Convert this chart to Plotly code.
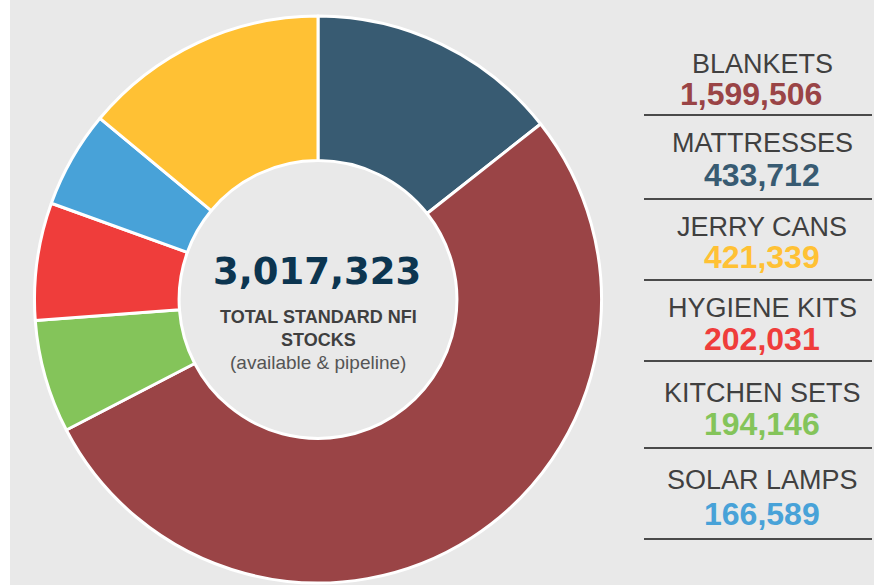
"""Donut chart of standard NFI stocks with a side list of totals."""

import plotly.graph_objects as go

ITEMS = ["MATTRESSES", "BLANKETS", "KITCHEN SETS", "HYGIENE KITS", "SOLAR LAMPS", "JERRY CANS"]
STOCKS = [433712, 1599506, 194146, 202031, 166589, 421339]
COLORS = ["#385B72", "#9A4446", "#84C45A", "#EF3D3B", "#48A2D8", "#FFC134"]

# order of the list on the right
LIST_ORDER = ["BLANKETS", "MATTRESSES", "JERRY CANS", "HYGIENE KITS", "KITCHEN SETS", "SOLAR LAMPS"]

TOTAL_LABEL = "TOTAL STANDARD NFI<br>STOCKS"
TOTAL_NOTE = "(available & pipeline)"

W, H = 874, 585
BG = "#E9E9E9"
LABEL_FONT = "Liberation Sans, Arial, sans-serif"


def px_x(x):
    return x / W


def px_y(y):
    return 1 - y / H


def note(x, y, text, font):
    fig.add_annotation(
        x=px_x(x), y=px_y(y), xref="paper", yref="paper", showarrow=False,
        xanchor="center", yanchor="middle", text=text, font=font,
    )


fig = go.Figure(
    go.Pie(
        labels=ITEMS,
        values=STOCKS,
        sort=False,
        direction="clockwise",
        rotation=0,
        hole=0.49,
        marker=dict(colors=COLORS, line=dict(color="white", width=3)),
        textinfo="none",
        hoverinfo="label+value",
        showlegend=False,
        domain=dict(x=[px_x(34), px_x(602)], y=[px_y(583), px_y(16)]),
    )
)

total = sum(STOCKS)
note(317, 271, f"<b>{total:,}</b>",
     dict(family="DejaVu Sans, Verdana, sans-serif", size=37, color="#0C3550"))
note(318, 328, f"<b>{TOTAL_LABEL}</b>", dict(family=LABEL_FONT, size=18, color="#3F3F3F"))
note(318, 362, TOTAL_NOTE, dict(family=LABEL_FONT, size=19, color="#555555"))

label_y = [64, 143, 227, 308, 393, 480]
value_y = [94, 175, 257, 339, 424, 514]
line_y = [115, 199, 280, 361, 448, 539]
for name, ly, vy, sy in zip(LIST_ORDER, label_y, value_y, line_y):
    i = ITEMS.index(name)
    note(762, ly, name, dict(family=LABEL_FONT, size=27, color="#404040"))
    note(751 if name == "BLANKETS" else 762, vy, f"<b>{STOCKS[i]:,}</b>",
         dict(family=LABEL_FONT, size=32, color=COLORS[i]))
    fig.add_shape(
        type="line", xref="paper", yref="paper",
        x0=px_x(644), x1=px_x(872), y0=px_y(sy), y1=px_y(sy),
        line=dict(color="#4A4A4A", width=2),
    )

# thin white strip on the left edge
fig.add_shape(
    type="rect", xref="paper", yref="paper",
    x0=0, x1=px_x(10), y0=0, y1=1,
    fillcolor="white", line=dict(width=0),
)

fig.update_layout(
    width=W,
    height=H,
    margin=dict(l=0, r=0, t=0, b=0),
    paper_bgcolor=BG,
    plot_bgcolor=BG,
)

fig.write_html(
    "out.html",
    config={"displayModeBar": False},
    post_script="document.body.style.margin='0';",
)
